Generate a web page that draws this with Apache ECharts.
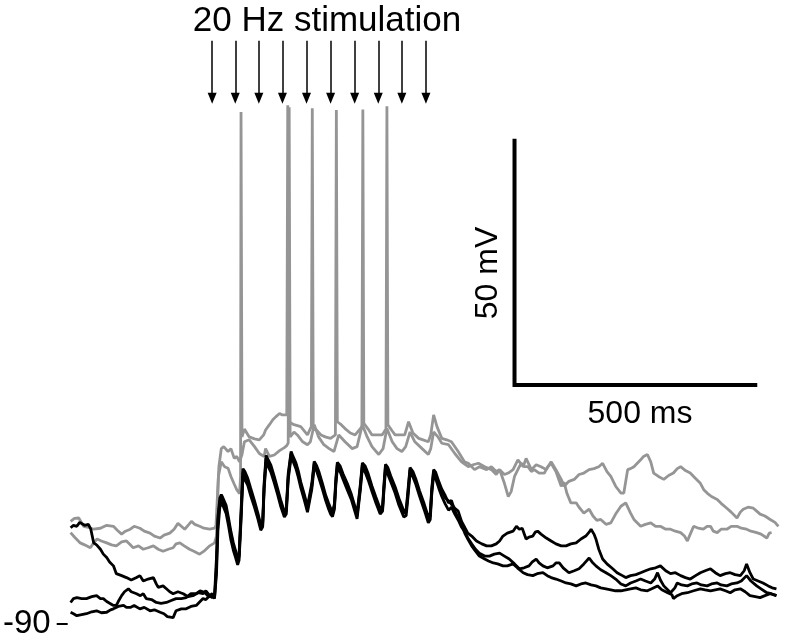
<!DOCTYPE html>
<html>
<head>
<meta charset="utf-8">
<script src="https://cdn.jsdelivr.net/npm/echarts@6/dist/echarts.min.js"></script>
<style>
html,body{margin:0;padding:0;background:#fff;}
#chart{width:785px;height:640px;}
</style>
</head>
<body>
<div id="chart"></div>
<script>
// ---- data (time in ms, membrane potential in mV) ----
const stimTimes = [300, 348, 397, 446, 496, 546, 596, 645, 694, 744];
const arrowFromV = 29.3;
const arrowToV = 17.5;
const yTickValues = [-90];
const yTickLabels = ['-90'];
const scaleBarT = [928, 928, 1428];
const scaleBarV = [8.8, -41.2, -41.2];
const titleText = '20 Hz stimulation';
const scaleVText = '50 mV';
const scaleTText = '500 ms';

const grayTraceA = [
[6,-69.1],[14,-68.5],[23,-68.4],[33,-70.1],[43,-70.3],[54,-70.7],[68,-70.5],[81,-69.9],[95,-70.1],[103,-70.9],[112,-71.7],[120,-71.1],[130,-70.7],[138,-70.1],[150,-70.5],[159,-71.1],[171,-71.5],[180,-72.1],[192,-72.5],[200,-71.9],[212,-71.5],[221,-70.7],[229,-69.5],[236,-70.1],[243,-70.7],[250,-69.9],[257,-69.1],[264,-69.7],[274,-70.1],[283,-70.5],[295,-70.7],[305,-70.5],
[308,-69.9],[314,-57.9],[319,-54.2],[324,-53.8],[333,-54.8],[339,-54.2],[346,-56.2],[351,-55.8],[357,-56.9],[362,-55.4],[367,-52.8],[377,-52.4],[388,-53.8],[398,-55.2],[408,-55.8],[411,-54.2],[419,-55.8],[429,-55.5],[440,-54.6],[450,-54.0],[455,-53.6],[458,-53.0],[460,15.7],[462,-51.8],[470,-50.8],[477,-51.4],[488,-52.8],[498,-53.4],[504,-52.8],[512,-49.3],[521,-51.8],[532,-53.4],[543,-54.2],[553,-54.8],[563,-51.4],[576,-52.8],[591,-54.2],[601,-53.8],[612,-49.3],[622,-51.8],[632,-53.8],[646,-55.4],[655,-54.2],[663,-50.1],[674,-52.8],[684,-54.2],[694,-54.8],[702,-53.8],[711,-50.8],[721,-52.8],[736,-54.2],[749,-55.4],[754,-54.2],[760,-50.8],[769,-51.8],[777,-53.1],
[791,-53.4],[804,-55.2],[818,-56.9],[832,-57.9],[842,-57.5],[853,-57.2],[866,-57.9],[880,-58.5],[890,-59.5],[897,-58.5],[907,-61.3],[915,-64.0],[921,-63.0],[928,-59.9],[938,-57.9],[942,-57.2],[948,-57.9],[956,-57.9],[963,-58.9],[969,-58.5],[979,-59.2],[990,-59.2],[997,-57.9],[1004,-57.2],[1014,-58.9],[1025,-61.9],[1031,-61.1],[1037,-63.4],[1045,-65.3],[1056,-65.3],[1062,-66.2],[1072,-67.4],[1083,-66.6],[1091,-68.0],[1099,-68.9],[1107,-68.7],[1118,-69.7],[1128,-69.4],[1138,-67.6],[1149,-66.0],[1159,-65.3],[1169,-67.4],[1176,-68.7],[1190,-70.1],[1200,-69.7],[1211,-69.4],[1221,-70.1],[1231,-70.1],[1242,-70.7],[1252,-70.7],[1262,-71.1],[1273,-71.4],[1281,-72.1],[1287,-73.1],[1293,-71.7],[1300,-70.1],[1310,-70.5],[1320,-70.7],[1328,-70.1],[1335,-70.1],[1341,-71.1],[1349,-71.4],[1357,-70.7],[1369,-70.7],[1378,-70.1],[1390,-70.1],[1399,-70.5],[1410,-70.7],[1419,-71.1],[1431,-71.4],[1440,-71.7],[1452,-72.5],[1457,-71.5],[1462,-71.4]
];

const grayTraceB = [
[6,-71.4],[14,-72.3],[26,-73.5],[35,-73.9],[47,-74.5],[54,-73.5],[61,-72.7],[70,-73.1],[81,-73.5],[91,-73.9],[101,-74.1],[112,-73.3],[122,-73.1],[130,-73.9],[136,-74.5],[147,-74.1],[157,-74.8],[167,-74.5],[178,-74.1],[188,-74.8],[198,-75.2],[209,-74.8],[219,-74.5],[225,-73.7],[233,-73.5],[242,-74.1],[253,-74.8],[262,-75.2],[274,-75.8],[283,-75.2],[295,-74.1],[305,-73.5],
[309,-72.1],[313,-59.9],[319,-56.9],[326,-57.9],[333,-58.2],[339,-59.9],[346,-61.5],[351,-62.6],[357,-63.4],[359,-59.9],[360,14.7],[362,-51.8],[367,-50.2],[377,-51.8],[388,-52.2],[398,-52.4],[407,-51.4],[411,-50.4],[419,-49.3],[426,-48.3],[432,-47.7],[440,-47.0],[446,-47.3],[450,-47.7],[455,-47.3],[457,16.1],[459,-48.7],[470,-49.3],[484,-49.7],[498,-51.4],[506,-49.7],[508,15.5],[510,-50.2],[517,-50.4],[526,-51.4],[535,-51.8],[546,-52.1],[556,-51.4],[558,15.1],[560,-48.7],[568,-49.3],[576,-50.1],[587,-51.0],[597,-51.4],[607,-50.2],[611,-49.7],[613,15.2],[615,-49.0],[624,-50.2],[632,-51.4],[643,-51.4],[653,-51.4],[661,-50.2],[663,15.9],[665,-49.3],[674,-50.6],[680,-51.4],[690,-51.4],[700,-51.4],[708,-48.7],[717,-51.0],[729,-52.1],[738,-52.4],[749,-52.8],[754,-51.4],[760,-47.3],[767,-49.7],[777,-52.1],[787,-52.4],[797,-52.8],[811,-54.8],[824,-56.9],[832,-57.2],
[845,-58.5],[855,-57.9],[870,-58.5],[880,-57.9],[890,-58.9],[897,-58.5],[907,-59.5],[915,-59.2],[925,-58.5],[935,-56.5],[946,-57.9],[952,-56.2],[963,-58.5],[973,-57.5],[983,-57.9],[994,-58.5],[1004,-56.9],[1014,-58.5],[1025,-60.5],[1031,-61.9],[1041,-60.9],[1052,-60.5],[1062,-59.5],[1072,-59.2],[1083,-58.5],[1093,-58.3],[1103,-57.9],[1111,-57.2],[1120,-58.9],[1128,-59.9],[1138,-61.9],[1149,-63.3],[1155,-63.3],[1163,-58.5],[1169,-58.3],[1176,-57.9],[1184,-57.1],[1190,-56.5],[1196,-55.8],[1204,-55.4],[1211,-56.9],[1217,-59.2],[1227,-59.9],[1238,-60.5],[1248,-59.7],[1258,-59.2],[1266,-58.3],[1273,-57.9],[1283,-58.7],[1293,-59.2],[1304,-60.3],[1314,-61.3],[1321,-62.6],[1328,-63.3],[1337,-64.0],[1349,-64.6],[1357,-65.4],[1369,-66.4],[1378,-67.2],[1390,-68.4],[1397,-67.2],[1403,-66.6],[1413,-66.2],[1424,-66.4],[1431,-67.0],[1438,-67.6],[1448,-68.0],[1459,-68.7],[1469,-69.3],[1476,-70.1]
];

const blackTrace1 = [
[6,-70.4],[12,-69.9],[19,-70.1],[25,-69.3],[29,-69.5],[35,-69.9],[43,-69.7],[48,-70.7],[54,-73.5],[60,-73.9],[68,-74.8],[74,-75.8],[81,-76.5],[87,-77.4],[95,-78.2],[101,-79.8],[112,-80.2],[122,-80.6],[132,-81.1],[143,-80.6],[150,-80.2],[157,-81.3],[167,-80.9],[178,-80.6],[184,-81.9],[188,-82.6],[198,-82.3],[205,-82.9],[212,-83.5],[219,-83.9],[229,-83.5],[240,-83.9],[250,-84.5],[260,-84.3],[271,-83.7],[281,-83.9],[287,-83.3],[295,-84.3],[300,-83.9],[305,-84.9],
[307,-84.5],[309,-78.2],[312,-69.1],[316,-65.0],[319,-64.3],[322,-65.0],[329,-66.4],[334,-69.1],[339,-71.7],[344,-74.1],[349,-75.8],[353,-77.5],[356,-76.2],[360,-68.0],[364,-58.9],[368,-59.5],[374,-60.9],[380,-63.0],[388,-65.6],[395,-68.0],[401,-70.4],[405,-69.7],[408,-61.9],[412,-56.2],[415,-56.9],[422,-58.2],[429,-60.5],[436,-63.0],[442,-65.2],[450,-67.6],[454,-67.0],[458,-59.9],[464,-55.2],[468,-56.3],[474,-57.5],[479,-59.5],[484,-61.5],[491,-64.0],[498,-66.6],[502,-67.0],[507,-61.9],[512,-57.2],[517,-58.3],[522,-59.5],[529,-61.9],[536,-64.3],[542,-66.0],[546,-67.0],[550,-67.6],[554,-66.0],[557,-60.9],[560,-57.5],[566,-58.3],[572,-59.9],[581,-61.9],[589,-64.0],[595,-66.0],[601,-68.0],[605,-67.6],[608,-61.9],[612,-57.5],[618,-58.3],[624,-59.9],[632,-62.4],[640,-64.6],[649,-67.0],[654,-66.4],[657,-61.9],[660,-57.9],[665,-58.7],[671,-60.3],[680,-62.6],[688,-65.0],[698,-67.4],[703,-67.2],[707,-63.0],[711,-58.5],[717,-59.5],[723,-60.9],[731,-63.4],[740,-66.0],[749,-68.7],[753,-68.0],[756,-63.0],[760,-58.9],[764,-59.5],[771,-61.5],[777,-63.0],[784,-64.3],[791,-64.9],[797,-65.6],[804,-66.4],[811,-67.0],[818,-69.1],[825,-70.4],[831,-71.5],
[839,-72.1],[849,-73.1],[860,-73.7],[870,-74.1],[880,-74.1],[890,-73.7],[897,-73.1],[904,-72.1],[913,-71.5],[925,-71.1],[932,-70.1],[938,-70.7],[944,-70.5],[952,-72.7],[958,-72.3],[966,-72.1],[971,-71.3],[976,-71.1],[983,-71.7],[994,-72.5],[1004,-73.1],[1014,-73.7],[1025,-74.1],[1035,-74.1],[1045,-73.7],[1056,-73.5],[1066,-72.7],[1076,-72.1],[1083,-71.3],[1087,-70.7],[1093,-71.7],[1097,-72.7],[1103,-74.8],[1111,-76.8],[1120,-77.8],[1132,-78.8],[1141,-79.6],[1152,-80.2],[1159,-80.6],[1169,-80.2],[1180,-80.0],[1190,-79.6],[1200,-79.2],[1211,-78.8],[1221,-78.6],[1231,-78.2],[1242,-79.2],[1252,-79.8],[1262,-79.6],[1273,-80.2],[1283,-80.6],[1293,-80.9],[1304,-80.2],[1314,-79.6],[1324,-79.2],[1335,-78.8],[1345,-79.6],[1355,-80.2],[1366,-79.8],[1376,-79.6],[1386,-80.0],[1397,-80.2],[1405,-79.2],[1410,-77.8],[1417,-79.6],[1424,-80.9],[1434,-81.3],[1444,-81.7],[1455,-82.3],[1463,-82.7],[1472,-82.9]
];

const blackTrace2 = [
[6,-85.7],[12,-84.9],[19,-84.7],[29,-84.9],[39,-84.9],[50,-84.5],[60,-84.3],[68,-84.9],[74,-84.9],[81,-85.5],[88,-85.9],[95,-86.3],[101,-86.3],[105,-85.5],[112,-84.3],[118,-83.5],[126,-82.9],[132,-83.5],[143,-83.9],[151,-84.3],[157,-83.9],[163,-84.9],[174,-85.1],[184,-85.7],[194,-85.9],[205,-85.7],[215,-85.3],[225,-84.9],[236,-84.9],[246,-84.7],[256,-83.9],[267,-83.9],[275,-83.3],[284,-83.6],[291,-84.3],[298,-84.3],[305,-84.7],
[307,-84.7],[309,-80.0],[312,-71.0],[316,-66.2],[319,-65.2],[323,-66.0],[329,-67.5],[334,-70.0],[339,-72.9],[344,-75.0],[349,-76.6],[353,-78.0],[356,-77.0],[360,-69.0],[364,-59.8],[368,-60.2],[374,-61.7],[380,-63.8],[388,-66.2],[395,-68.6],[401,-70.9],[405,-70.2],[408,-62.5],[412,-57.0],[416,-57.4],[422,-59.0],[429,-61.2],[436,-63.6],[442,-65.9],[450,-68.2],[454,-67.6],[458,-60.5],[464,-56.0],[468,-56.8],[474,-58.3],[479,-60.1],[484,-62.2],[491,-64.6],[498,-67.2],[502,-67.6],[507,-62.5],[512,-58.0],[517,-58.8],[522,-60.3],[529,-62.5],[536,-64.9],[542,-66.6],[546,-67.6],[550,-68.1],[554,-66.6],[557,-61.5],[560,-58.3],[566,-59.0],[572,-60.5],[581,-62.7],[589,-64.6],[595,-66.6],[601,-68.6],[605,-68.2],[608,-62.5],[612,-58.2],[618,-59.1],[624,-60.6],[632,-63.0],[640,-65.3],[649,-67.6],[654,-67.0],[657,-62.5],[660,-58.7],[665,-59.5],[671,-61.0],[680,-63.3],[688,-65.8],[698,-68.2],[703,-67.9],[707,-63.8],[711,-59.3],[717,-60.0],[723,-61.5],[731,-64.0],[740,-66.6],[749,-69.4],[753,-68.7],[756,-63.7],[760,-59.7],[764,-60.3],[771,-62.4],[777,-64.0],[784,-65.5],[791,-66.8],[797,-66.2],[804,-67.6],[811,-68.8],[818,-70.3],[825,-71.2],[831,-72.5],
[839,-73.7],[847,-74.8],[855,-75.6],[866,-76.2],[876,-76.2],[886,-75.8],[897,-75.6],[907,-76.2],[917,-76.8],[928,-77.8],[938,-78.8],[948,-78.6],[958,-78.2],[965,-77.4],[973,-76.8],[979,-77.6],[987,-78.2],[996,-78.6],[1008,-78.2],[1014,-77.6],[1021,-77.6],[1029,-78.6],[1041,-79.6],[1052,-79.2],[1062,-78.8],[1072,-77.8],[1083,-76.6],[1089,-77.4],[1097,-78.2],[1107,-79.0],[1118,-79.6],[1128,-80.2],[1138,-80.9],[1149,-81.9],[1159,-82.3],[1169,-81.7],[1180,-81.3],[1190,-80.9],[1200,-81.3],[1211,-81.7],[1219,-80.9],[1225,-79.6],[1231,-81.1],[1238,-82.3],[1246,-83.1],[1252,-83.7],[1261,-82.7],[1266,-81.7],[1275,-82.1],[1287,-82.3],[1296,-81.9],[1307,-81.7],[1316,-82.1],[1328,-82.3],[1337,-81.9],[1349,-81.7],[1357,-82.1],[1369,-82.3],[1378,-81.9],[1390,-81.7],[1399,-81.3],[1410,-80.2],[1419,-81.3],[1431,-82.3],[1440,-82.9],[1452,-83.7],[1461,-83.9],[1472,-84.3]
];

const blackTrace3 = [
[6,-87.7],[12,-88.0],[19,-88.4],[29,-88.2],[39,-88.0],[50,-87.6],[60,-87.4],[70,-87.8],[81,-87.7],[89,-87.2],[95,-87.0],[105,-86.5],[116,-86.3],[122,-86.7],[130,-86.7],[138,-86.3],[150,-87.0],[159,-86.7],[171,-87.4],[180,-87.2],[192,-87.7],[200,-88.0],[207,-88.6],[219,-88.8],[225,-87.4],[236,-87.0],[246,-87.0],[256,-86.5],[267,-86.3],[275,-85.5],[281,-84.9],[287,-85.1],[295,-84.3],[300,-84.7],[305,-84.3],
[307,-84.3],[309,-76.5],[312,-68.2],[316,-64.3],[319,-63.6],[322,-64.2],[329,-65.8],[334,-68.4],[339,-71.2],[344,-73.5],[349,-75.2],[353,-76.8],[356,-75.8],[360,-67.0],[364,-58.3],[368,-58.9],[374,-60.3],[380,-62.3],[388,-64.9],[395,-67.4],[401,-69.8],[405,-69.2],[408,-61.2],[412,-55.6],[415,-56.2],[422,-57.6],[429,-59.9],[436,-62.4],[442,-64.6],[450,-67.1],[454,-66.5],[458,-59.3],[464,-54.8],[468,-55.8],[474,-57.1],[479,-58.8],[484,-61.0],[491,-63.4],[498,-66.0],[502,-66.4],[507,-61.3],[512,-56.8],[517,-57.7],[522,-59.0],[529,-61.3],[536,-63.8],[542,-65.4],[546,-66.4],[550,-67.1],[554,-65.5],[557,-60.2],[560,-57.0],[566,-57.8],[572,-59.4],[581,-61.4],[589,-63.5],[595,-65.5],[601,-67.5],[605,-67.1],[608,-61.3],[612,-57.1],[618,-57.8],[624,-59.3],[632,-61.9],[640,-64.1],[649,-66.5],[654,-65.9],[657,-61.3],[660,-57.4],[665,-58.1],[671,-59.8],[680,-62.0],[688,-64.4],[698,-66.9],[703,-66.7],[707,-62.4],[711,-58.1],[717,-58.9],[723,-60.4],[731,-62.9],[740,-65.4],[749,-68.2],[753,-67.4],[756,-62.4],[760,-58.5],[764,-59.0],[771,-61.0],[777,-62.5],[784,-63.8],[791,-65.3],[797,-64.8],[804,-66.9],[811,-68.4],[818,-69.8],[825,-71.6],[831,-72.7],
[839,-74.1],[847,-75.2],[855,-76.2],[866,-76.8],[874,-77.2],[884,-77.6],[893,-77.8],[904,-78.2],[913,-78.2],[925,-77.8],[934,-78.6],[946,-79.6],[955,-80.0],[966,-80.2],[975,-79.8],[987,-79.6],[996,-80.2],[1004,-80.6],[1014,-80.9],[1025,-81.3],[1035,-81.7],[1045,-81.9],[1056,-82.3],[1066,-81.9],[1076,-81.7],[1087,-82.1],[1097,-82.3],[1107,-82.7],[1118,-82.9],[1128,-83.1],[1138,-83.3],[1149,-83.3],[1159,-83.1],[1169,-82.9],[1180,-82.7],[1190,-83.1],[1204,-83.3],[1213,-82.9],[1225,-82.3],[1234,-83.1],[1246,-83.7],[1255,-84.1],[1258,-84.9],[1266,-84.3],[1275,-83.9],[1287,-83.7],[1300,-83.3],[1314,-82.9],[1324,-83.1],[1335,-83.3],[1345,-83.1],[1355,-82.9],[1366,-83.3],[1376,-83.7],[1386,-83.1],[1397,-82.9],[1407,-83.5],[1417,-84.3],[1428,-84.5],[1438,-84.7],[1448,-84.3],[1459,-83.9],[1472,-84.3]
];

// ---- chart ----
const FONT = '"Liberation Sans", Arial, Helvetica, sans-serif';
const GRAY = '#959595';
const BLACK = '#000000';

const chart = echarts.init(document.getElementById('chart'), null, {renderer: 'canvas'});

function traceSeries(data, color, z) {
  return {
    type: 'line',
    data: data,
    showSymbol: false,
    symbol: 'none',
    smooth: false,
    clip: false,
    z: z,
    lineStyle: {color: color, width: 2.8, join: 'bevel'},
    emphasis: {disabled: true},
    silent: true
  };
}

const arrowLines = stimTimes.map(t => [
  {coord: [t, arrowFromV]},
  {coord: [t, arrowToV]}
]);

const option = {
  backgroundColor: '#ffffff',
  animation: false,
  grid: {left: 64, right: 4.7, top: 8, bottom: 12, containLabel: false},
  xAxis: {
    type: 'value', min: 0, max: 1480,
    show: false
  },
  yAxis: {
    type: 'value', min: -90, max: 36,
    axisLine: {show: false},
    splitLine: {show: false},
    axisTick: {show: true, customValues: yTickValues, length: 11, lineStyle: {color: BLACK, width: 2}},
    axisLabel: {
      show: true, customValues: yTickValues,
      formatter: (v) => yTickLabels[yTickValues.indexOf(v)] || '',
      color: BLACK, fontSize: 33, fontFamily: FONT, margin: 17
    }
  },
  series: [
    traceSeries(grayTraceA, GRAY, 2),
    traceSeries(grayTraceB, GRAY, 2),
    traceSeries(blackTrace1, BLACK, 3),
    traceSeries(blackTrace2, BLACK, 3),
    traceSeries(blackTrace3, BLACK, 3),
    {
      type: 'line',
      data: scaleBarT.map((t, i) => [t, scaleBarV[i]]),
      showSymbol: false, symbol: 'none', clip: false, z: 4, silent: true,
      lineStyle: {color: BLACK, width: 4, join: 'miter', cap: 'square'},
      markLine: {
        silent: true,
        animation: false,
        symbol: ['none', 'triangle'],
        symbolSize: [9, 11],
        label: {show: false},
        lineStyle: {color: BLACK, width: 1.5, type: 'solid'},
        emphasis: {disabled: true},
        data: arrowLines
      }
    }
  ],
  graphic: [
    {type: 'text', x: 327, y: 21, silent: true,
     style: {text: titleText, font: '35px ' + FONT, fill: BLACK, align: 'center', verticalAlign: 'middle'}},
    {type: 'text', x: 488, y: 273, rotation: Math.PI / 2, silent: true,
     style: {text: scaleVText, font: '32px ' + FONT, fill: BLACK, align: 'center', verticalAlign: 'middle'}},
    {type: 'text', x: 640, y: 414, silent: true,
     style: {text: scaleTText, font: '32px ' + FONT, fill: BLACK, align: 'center', verticalAlign: 'middle'}}
  ]
};
chart.setOption(option);
</script>
</body>
</html>
